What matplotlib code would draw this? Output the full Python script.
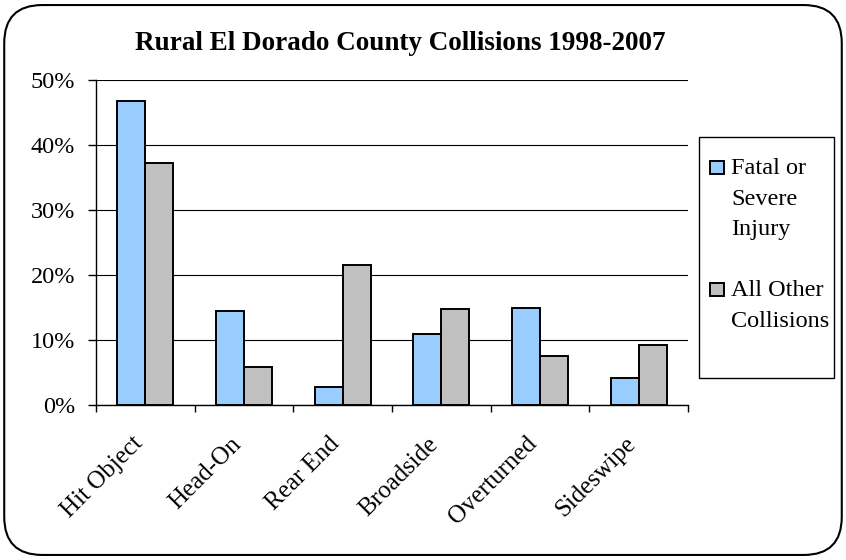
import matplotlib
matplotlib.use("Agg")
import matplotlib.pyplot as plt
import matplotlib.transforms as mtransforms
import numpy as np
from matplotlib.patches import FancyBboxPatch, Rectangle
from matplotlib.ticker import PercentFormatter

categories = ['Hit Object', 'Head-On', 'Rear End', 'Broadside', 'Overturned', 'Sideswipe']
fatal = [46.8, 14.4, 2.7, 11.0, 14.9, 4.2]
other = [37.2, 5.8, 21.5, 14.7, 7.5, 9.3]
series_names = ['Fatal or\nSevere\nInjury', 'All Other\nCollisions']
colors = ['#99ccff', '#c0c0c0']
yticks = [0, 10, 20, 30, 40, 50]

plt.rcParams['font.family'] = ['Liberation Serif', 'DejaVu Serif']

W, H = 846, 560
fig = plt.figure(figsize=(W / 100, H / 100), dpi=100)


# pixel coords (from top-left) -> figure fraction
def px(x, y):
    return x / W, 1 - y / H


ax = fig.add_axes([96 / W, 1 - 405 / H, (688 - 96) / W, (405 - 80) / H])

# rounded outer frame like the Excel chart area
frame = FancyBboxPatch((0.005, 0.009), 0.99, 0.982, boxstyle="round,pad=0,rounding_size=0.045",
                       transform=fig.transFigure, fill=False, edgecolor='black', linewidth=1.5,
                       mutation_aspect=W / H)
fig.patches.append(frame)

x = np.arange(len(categories))
w = 0.285
ax.bar(x - w / 2, fatal, w, color=colors[0], edgecolor='black', linewidth=1.4, zorder=3)
ax.bar(x + w / 2, other, w, color=colors[1], edgecolor='black', linewidth=1.4, zorder=3)

ax.set_xlim(-0.5, len(categories) - 0.5)
ax.set_ylim(0, 50)
ax.set_yticks(yticks)
ax.yaxis.set_major_formatter(PercentFormatter(decimals=0))
ax.grid(axis='y', color='black', linewidth=0.8, zorder=0)

ax.set_xticks(x)
ax.set_xticklabels(categories, rotation=45, ha='right', va='top', rotation_mode='anchor', fontsize=18)
ax.set_xticks(np.arange(-0.5, len(categories)), minor=True)
ax.tick_params(axis='x', which='major', length=0, pad=20)
ax.tick_params(axis='x', which='minor', length=5, width=1, direction='out')
ax.tick_params(axis='y', length=6, width=1, labelsize=17.5, pad=9)
shift = mtransforms.ScaledTranslation(-10 / 72, 0, fig.dpi_scale_trans)
for lab in ax.get_xticklabels():
    lab.set_transform(lab.get_transform() + shift)

for s in ['top', 'right']:
    ax.spines[s].set_visible(False)
for s in ['left', 'bottom']:
    ax.spines[s].set_linewidth(1)

fig.text(*px(400, 44), 'Rural El Dorado County Collisions 1998-2007', ha='center', va='center',
         fontsize=19.5, fontweight='bold')

# legend box drawn by hand so the swatch sits beside the first text line
lx0, ly0 = px(699, 378)
lx1, ly1 = px(834, 137)
fig.patches.append(Rectangle((lx0, ly0), lx1 - lx0, ly1 - ly0, transform=fig.transFigure,
                             fill=False, edgecolor='black', linewidth=1))
for name, col, top in zip(series_names, colors, [161, 283]):
    sx, sy = px(710, top + 13)
    fig.patches.append(Rectangle((sx, sy), 14 / W, 13 / H, transform=fig.transFigure,
                                 facecolor=col, edgecolor='black', linewidth=1.4))
    fig.text(*px(731, top - 3), name, ha='left', va='top', fontsize=17.5, linespacing=1.6)

fig.savefig('out.png', dpi=100)
